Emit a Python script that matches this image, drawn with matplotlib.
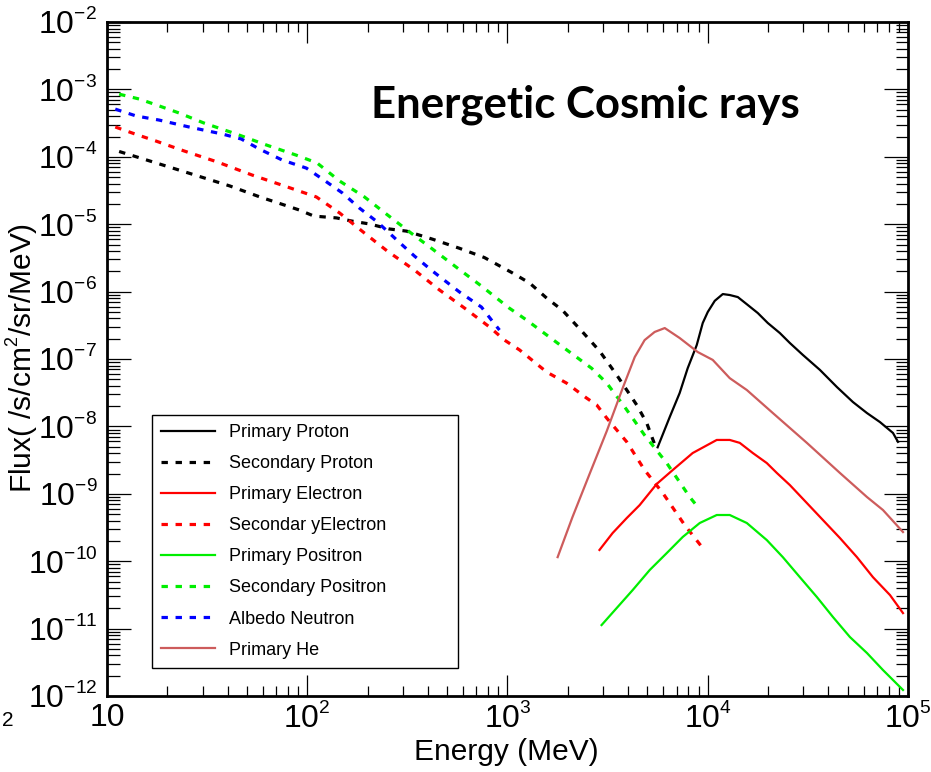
import matplotlib
matplotlib.use("Agg")
import matplotlib.pyplot as plt
import matplotlib._mathtext as mathtext_internals
from matplotlib import font_manager
from matplotlib.ticker import FixedLocator, FixedFormatter, LogLocator, NullFormatter

# smaller, higher exponents in the power-of-ten labels
mathtext_internals.SHRINK_FACTOR = 0.6
mathtext_internals.FontConstantsBase.sup1 = 0.85

installed = {f.name for f in font_manager.fontManager.ttflist}
axis_font = "Liberation Sans Narrow" if "Liberation Sans Narrow" in installed else "Liberation Sans"

plt.rcParams["font.family"] = ["Liberation Sans", "DejaVu Sans"]
plt.rcParams["mathtext.fontset"] = "custom"
plt.rcParams["mathtext.rm"] = axis_font
plt.rcParams["mathtext.it"] = axis_font + ":italic"
plt.rcParams["mathtext.bf"] = axis_font + ":bold"
plt.rcParams["mathtext.default"] = "regular"

# ---- spectra: energy (MeV) and flux (/s/cm^2/sr/MeV) ----
prim_proton_E = [5620, 6460, 7240, 7940, 8810, 9440, 10000, 10840, 11890, 12880, 14130, 15670,
                 17780, 19950, 22910, 25700, 29850, 36310, 44160, 53090, 62370, 72440, 84140, 89130]
prim_proton_F = [4.9e-9, 1.38e-8, 3.13e-8, 7.3e-8, 1.61e-7, 3.42e-7, 4.98e-7, 7.3e-7, 9.2e-7, 8.9e-7,
                 8.3e-7, 6.5e-7, 4.81e-7, 3.42e-7, 2.43e-7, 1.73e-7, 1.15e-7, 6.9e-8, 3.84e-8, 2.3e-8,
                 1.58e-8, 1.16e-8, 8.0e-9, 5.9e-9]

sec_proton_E = [11.5, 22, 41, 58, 91, 108, 140, 168, 204, 257, 313, 422, 575, 767, 1060, 1290,
                1570, 1880, 2370, 2880, 3510, 3940, 4420, 4960, 5500]
sec_proton_F = [1.2e-4, 6.6e-5, 3.7e-5, 2.54e-5, 1.63e-5, 1.32e-5, 1.24e-5, 1.11e-5, 1.01e-5, 8.5e-6,
                7.9e-6, 6.0e-6, 4.4e-6, 3.2e-6, 1.89e-6, 1.34e-6, 8.0e-7, 5.3e-7, 2.52e-7, 1.32e-7,
                5.8e-8, 3.47e-8, 2.08e-8, 1.12e-8, 4.9e-9]

prim_electron_E = [2880, 3350, 3940, 4570, 5560, 6680, 8410, 11090, 12880, 14450, 16790, 19720,
                   22130, 25700, 31260, 37580, 45710, 55590, 66830, 81280, 94410]
prim_electron_F = [1.47e-10, 2.62e-10, 4.37e-10, 6.8e-10, 1.40e-9, 2.25e-9, 4.03e-9, 6.3e-9, 6.3e-9,
                   5.7e-9, 4.03e-9, 2.86e-9, 2.04e-9, 1.35e-9, 7.3e-10, 4.09e-10, 2.21e-10, 1.15e-10,
                   5.8e-11, 3.15e-11, 1.7e-11]

sec_electron_E = [11, 13.8, 17.6, 24.3, 35.5, 53, 77, 111, 145, 193, 251, 343, 457, 610, 813, 966,
                  1150, 1570, 1970, 2480, 2790, 3130, 3940, 4840, 5960, 7670, 9440]
sec_electron_F = [2.77e-4, 2.18e-4, 1.71e-4, 1.22e-4, 8.4e-5, 5.37e-5, 3.69e-5, 2.54e-5, 1.47e-5,
                  7.4e-6, 4.0e-6, 2.09e-6, 1.06e-6, 5.7e-7, 2.99e-7, 1.91e-7, 1.36e-7, 6.4e-8, 4.4e-8,
                  2.64e-8, 2.08e-8, 1.33e-8, 5.9e-9, 2.25e-9, 1.03e-9, 3.44e-10, 1.57e-10]

prim_positron_E = [2950, 3510, 4220, 5130, 6240, 7500, 9120, 11090, 12880, 15670, 19720, 23710,
                   28840, 35080, 42170, 51290, 62370, 74990, 94410]
prim_positron_F = [1.13e-11, 2.02e-11, 3.74e-11, 7.4e-11, 1.32e-10, 2.29e-10, 3.69e-10, 4.85e-10,
                   4.85e-10, 3.69e-10, 2.06e-10, 1.15e-10, 5.8e-11, 2.94e-11, 1.49e-11, 7.5e-12,
                   4.35e-12, 2.43e-12, 1.23e-12]

sec_positron_E = [11.5, 14.5, 17.6, 22.9, 30.5, 44.2, 62.4, 88, 112, 145, 193, 248, 324, 422, 562,
                  741, 1020, 1245, 1860, 2630, 3130, 3850, 4840, 6240, 8130, 8910]
sec_positron_F = [8.5e-4, 7.2e-4, 5.9e-4, 4.47e-4, 3.17e-4, 2.18e-4, 1.50e-4, 1.06e-4, 8.1e-5,
                  4.38e-5, 2.54e-5, 1.42e-5, 7.7e-6, 4.28e-6, 2.24e-6, 1.21e-6, 5.7e-7, 3.79e-7,
                  1.56e-7, 7.3e-8, 4.4e-8, 1.94e-8, 7.4e-9, 2.86e-9, 8.97e-10, 6.4e-10]

albedo_neutron_E = [11, 14, 18.2, 25.7, 37.6, 46.8, 57.5, 75, 99, 119, 150, 182, 224, 288, 343,
                    422, 575, 741, 832, 912]
albedo_neutron_F = [5.1e-4, 4.03e-4, 3.51e-4, 2.77e-4, 2.18e-4, 1.84e-4, 1.31e-4, 8.96e-5, 6.8e-5,
                    4.69e-5, 2.9e-5, 1.74e-5, 1.08e-5, 5.4e-6, 3.37e-6, 2.02e-6, 9.9e-7, 5.9e-7,
                    3.79e-7, 2.69e-7]

prim_he_E = [1780, 2110, 2570, 3130, 3760, 4320, 4840, 5430, 6100, 7240, 8910, 10590, 12880, 15670,
             21140, 31260, 45710, 62370, 74990, 94410]
prim_he_F = [1.15e-10, 4.5e-10, 1.97e-9, 8.5e-9, 3.7e-8, 1.07e-7, 1.91e-7, 2.52e-7, 2.88e-7, 2.05e-7,
             1.27e-7, 9.7e-8, 5.2e-8, 3.47e-8, 1.58e-8, 5.7e-9, 2.04e-9, 8.97e-10, 5.75e-10, 2.71e-10]

series_labels = ["Primary Proton", "Secondary Proton", "Primary Electron", "Secondar yElectron",
                 "Primary Positron", "Secondary Positron", "Albedo Neutron", "Primary He"]

xtick_values = [10, 1e2, 1e3, 1e4, 1e5]
xtick_labels = ["10", "$10^{2}$", "$10^{3}$", "$10^{4}$", "$10^{5}$"]
ytick_values = [1e-12, 1e-11, 1e-10, 1e-9, 1e-8, 1e-7, 1e-6, 1e-5, 1e-4, 1e-3, 1e-2]
ytick_labels = ["$10^{-12}$", "$10^{-11}$", "$10^{-10}$", "$10^{-9}$", "$10^{-8}$", "$10^{-7}$",
                "$10^{-6}$", "$10^{-5}$", "$10^{-4}$", "$10^{-3}$", "$10^{-2}$"]

fig = plt.figure(figsize=(9.31, 7.72), dpi=100)
ax = fig.add_axes([0.1149, 0.0984, 0.8604, 0.8731])

solid = dict(lw=1.6, solid_joinstyle="round")
dash = dict(lw=2.3, linestyle=(0, (2.0, 2.4)), dash_capstyle="butt")

ax.plot(prim_proton_E, prim_proton_F, color="black", label=series_labels[0], **solid)
ax.plot(sec_proton_E, sec_proton_F, color="black", label=series_labels[1], **dash)
ax.plot(prim_electron_E, prim_electron_F, color="#ff0000", label=series_labels[2], **solid)
ax.plot(sec_electron_E, sec_electron_F, color="#ff0000", label=series_labels[3], **dash)
ax.plot(prim_positron_E, prim_positron_F, color="#00ee00", label=series_labels[4], **solid)
ax.plot(sec_positron_E, sec_positron_F, color="#00ee00", label=series_labels[5], **dash)
ax.plot(albedo_neutron_E, albedo_neutron_F, color="#0000ff", label=series_labels[6], **dash)
ax.plot(prim_he_E, prim_he_F, color="#cd5c5c", label=series_labels[7], **solid)

ax.set_xscale("log")
ax.set_yscale("log")
ax.set_xlim(10, 1e5)
ax.set_ylim(1e-12, 1e-2)

ax.xaxis.set_major_locator(FixedLocator(xtick_values))
ax.xaxis.set_major_formatter(FixedFormatter(xtick_labels))
ax.yaxis.set_major_locator(FixedLocator(ytick_values))
ax.yaxis.set_major_formatter(FixedFormatter(ytick_labels))
ax.xaxis.set_minor_locator(LogLocator(base=10, subs=range(2, 10), numticks=20))
ax.yaxis.set_minor_locator(LogLocator(base=10, subs=range(2, 10), numticks=30))
ax.xaxis.set_minor_formatter(NullFormatter())
ax.yaxis.set_minor_formatter(NullFormatter())

ax.tick_params(which="both", direction="in", top=True, right=True, width=0.9, color="black")
ax.tick_params(axis="x", which="major", length=15, labelsize=23, pad=5)
ax.tick_params(axis="x", which="minor", length=7.5)
ax.tick_params(axis="y", which="major", length=17, labelsize=23, pad=7)
ax.tick_params(axis="y", which="minor", length=9)
for sp in ax.spines.values():
    sp.set_linewidth(2.0)

fig.text(0.544, 0.026, "Energy (MeV)", ha="center", va="center", fontsize=21.5)
fig.text(0.024, 0.536, "Flux( /s/cm$^{2}$/sr/MeV)", ha="center", va="center",
         rotation=90, fontsize=21.5)
fig.text(0.002, 0.067, "2", ha="left", va="center", fontsize=15)

ax.text(0.597, 0.877, "Energetic Cosmic rays", transform=ax.transAxes, ha="center",
        va="center", fontsize=31.5, fontweight="bold", family=["Lato", "DejaVu Sans"])

leg = ax.legend(loc="upper left", bbox_to_anchor=(0.0562, 0.0445, 0.382, 0.3724),
                mode="expand", borderaxespad=0, fontsize=13, handlelength=3.0,
                handletextpad=0.75, labelspacing=0.78, borderpad=0.5, fancybox=False,
                framealpha=1, edgecolor="black")
leg.get_frame().set_linewidth(1.0)

fig.savefig("out.png", dpi=100)
